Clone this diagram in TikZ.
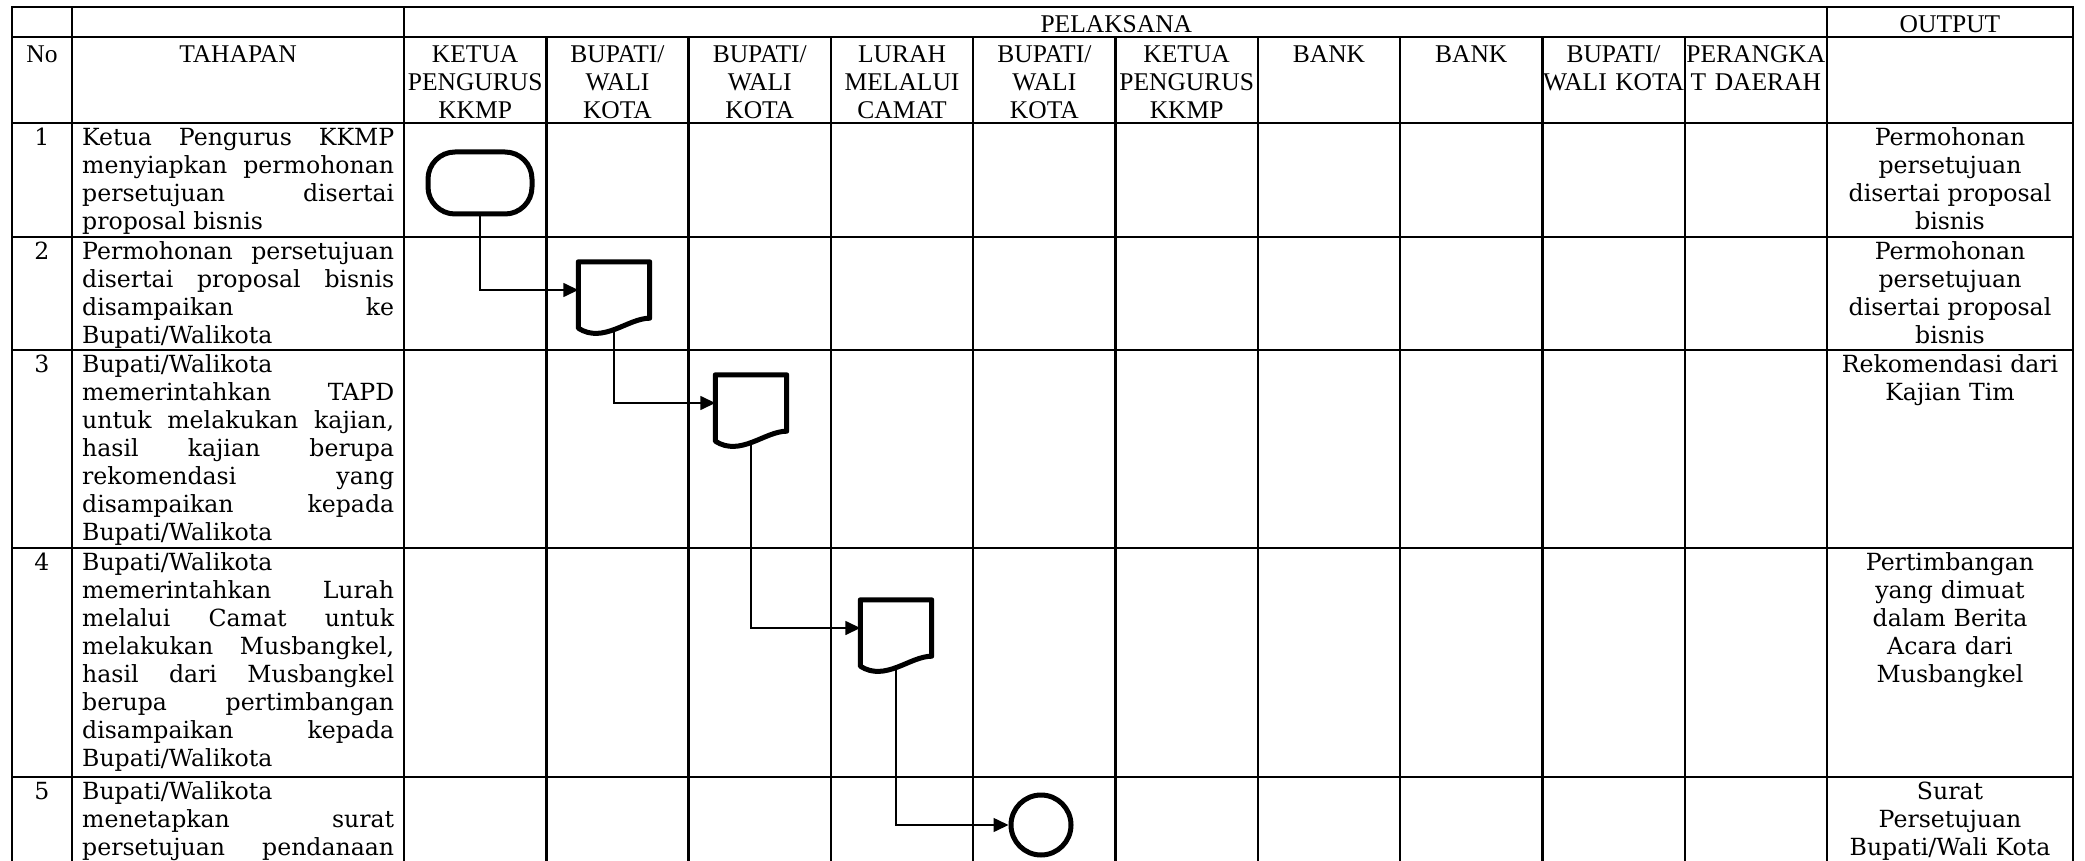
\documentclass[tikz,border=0pt]{standalone}
\usepackage{fontspec}
\setmainfont{DejaVu Serif}
\newfontfamily\serifjudul{Liberation Serif}
\usetikzlibrary{arrows.meta}
\newcommand{\hurufjudul}{\serifjudul\fontsize{25.5}{28}\selectfont}
\newcommand{\hurufisi}{\fontsize{23.6}{28}\selectfont}
\newcommand{\atas}{\noindent\rule{0pt}{20pt}}

\begin{document}
\begin{tikzpicture}[x=1pt, y=-1pt,
	garis/.style={line width=2.4pt, line cap=rect},
	simbol/.style={draw, line width=5pt, fill=white, line join=round},
	alur/.style={line width=1.5pt, -{Triangle[length=15pt,width=14pt]}},
	judul/.style={font=\hurufjudul, text width=150pt, align=center, anchor=north, inner sep=0pt, execute at begin node=\atas},
	isi/.style={font=\hurufisi, inner sep=0pt, execute at begin node=\atas},
	tahap/.style={isi, anchor=north west, text width=312pt, align=justify},
	keluaran/.style={isi, anchor=north, text width=236pt, align=center},
	dok/.style={minimum width=71pt, minimum height=56pt, inner sep=0pt}]
	\useasboundingbox (0,0) rectangle (2085,861);
	%garis tabel
	\foreach \y in {7,37,123,237,350,548,777}
		\draw[garis] (12,\y) -- (2073,\y);
	\foreach \x in {12,72,404,1827,2073}
		\draw[garis] (\x,7) -- (\x,861);
	\foreach \i in {1,...,9}
		\draw[garis] ({404+142.3*\i},37) -- ({404+142.3*\i},861);
	%kepala tabel
	\node[judul] (pelaksana) at (1115.5,12) {PELAKSANA};
	\node[judul] (output) at (1950,12) {OUTPUT};
	\node[judul] (no) at (42,42) {No};
	\node[judul] (tahapan) at (238,42) {TAHAPAN};
	\foreach \nama [count=\i] in {KETUA\\PENGURUS\\KKMP, BUPATI/\\WALI\\KOTA, BUPATI/\\WALI\\KOTA, LURAH\\MELALUI\\CAMAT, BUPATI/\\WALI\\KOTA, KETUA\\PENGURUS\\KKMP, BANK, BANK, BUPATI/\\WALI KOTA, PERANGKA\\T DAERAH}
		\node[judul] (kol\i) at ({404+142.3*\i-71.15},42) {\nama};
	%nomor
	\foreach \n/\y in {1/123,2/237,3/350,4/548,5/777}
		\node[isi, anchor=north] (nomor\n) at (42,\y+2) {\n};
	%tahapan
	\node[tahap] (tahap1) at (82,125) {Ketua Pengurus KKMP\linebreak menyiapkan permohonan\linebreak persetujuan disertai\linebreak proposal bisnis};
	\node[tahap] (tahap2) at (82,239) {Permohonan persetujuan\linebreak disertai proposal bisnis\linebreak disampaikan ke\linebreak Bupati/Walikota};
	\node[tahap] (tahap3) at (82,352) {Bupati/Walikota\linebreak memerintahkan TAPD\linebreak untuk melakukan kajian,\linebreak hasil kajian berupa\linebreak rekomendasi yang\linebreak disampaikan kepada\linebreak Bupati/Walikota};
	\node[tahap] (tahap4) at (82,550) {Bupati/Walikota\linebreak memerintahkan Lurah\linebreak melalui Camat untuk\linebreak melakukan Musbangkel,\linebreak hasil dari Musbangkel\linebreak berupa pertimbangan\linebreak disampaikan kepada\linebreak Bupati/Walikota};
	\node[tahap] (tahap5) at (82,779) {Bupati/Walikota\linebreak menetapkan surat\linebreak persetujuan pendanaan\linebreak};
	%output
	\node[keluaran] (hasil1) at (1950,125) {Permohonan\\persetujuan\\disertai proposal\\bisnis};
	\node[keluaran] (hasil2) at (1950,239) {Permohonan\\persetujuan\\disertai proposal\\bisnis};
	\node[keluaran] (hasil3) at (1950,352) {Rekomendasi dari\\Kajian Tim};
	\node[keluaran] (hasil4) at (1950,550) {Pertimbangan\\yang dimuat\\dalam Berita\\Acara dari\\Musbangkel};
	\node[keluaran] (hasil5) at (1950,779) {Surat\\Persetujuan\\Bupati/Wali Kota};
	%simbol alur
	\node[simbol, rounded corners=27pt, minimum width=104pt, minimum height=62pt] (mulai) at (480,183) {};
	\node[dok] (dokA) at (614,290) {};
	\node[dok] (dokB) at (751,403) {};
	\node[dok] (dokC) at (896,628) {};
	\node[simbol, circle, minimum size=60pt] (selesai) at (1041,825) {};
	%garis penghubung
	\draw[alur] (mulai.south) |- (dokA.west);
	\draw[alur] (dokA.south) |- (dokB.west);
	\draw[alur] (dokB.south) |- (dokC.west);
	\draw[alur] (dokC.south) |- (selesai.west);
	%bentuk dokumen
	\foreach \d in {dokA,dokB,dokC}
		\draw[simbol] (\d.south east) -- (\d.north east) -- (\d.north west) -- ([yshift=-10pt]\d.south west) .. controls +(25pt,-16pt) and +(-22pt,0pt) .. (\d.south east) -- cycle;
\end{tikzpicture}
\end{document}
